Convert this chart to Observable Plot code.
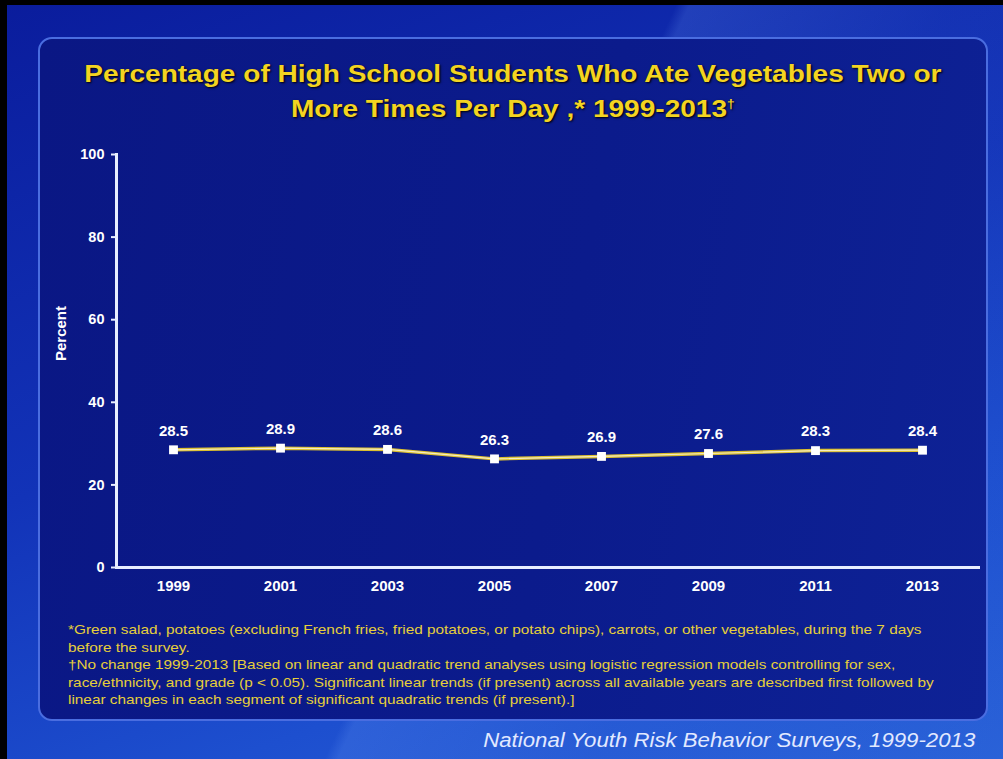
<!DOCTYPE html>
<html>
<head>
<meta charset="utf-8">
<script src="https://cdn.jsdelivr.net/npm/d3@7"></script>
<script src="https://cdn.jsdelivr.net/npm/@observablehq/plot@0.6"></script>
<style>
  html, body { margin: 0; padding: 0; }
  body {
    width: 1003px; height: 759px; position: relative; overflow: hidden;
    font-family: "Liberation Sans", Arial, sans-serif;
    background:
      linear-gradient(115deg, rgba(255,255,255,0) 0%, rgba(255,255,255,0) 50%, rgba(120,170,255,0.18) 51%, rgba(120,170,255,0.05) 70%, rgba(255,255,255,0) 100%),
      linear-gradient(160deg, #0a1c9c 0%, #1233b8 45%, #1d4fcf 75%, #2a62d8 100%);
  }
  #frameL { position: absolute; left: 0; top: 0; width: 7px; height: 759px; background: #000; }
  #frameT { position: absolute; left: 0; top: 0; width: 1003px; height: 5px; background: #000; }
  #panel {
    position: absolute; left: 38px; top: 37px; width: 946px; height: 680px;
    border: 2px solid #4a6de0; border-radius: 14px;
    background: linear-gradient(100deg, #0a1784 0%, #0b1b8c 55%, #0e2296 100%);
  }
  #title {
    position: absolute; left: 38px; top: 59px; width: 950px; text-align: center;
    color: #f3d421; font-weight: bold; font-size: 24.5px; line-height: 30px;
    text-shadow: 1px 1px 2px #000;
    transform: scaleX(1.145); transform-origin: 476px 0;
  }
  #notes {
    position: absolute; left: 68px; top: 621px;
    color: #e6cf3a; font-size: 13px; line-height: 17.5px; white-space: nowrap;
    transform: scaleX(1.18); transform-origin: 0 0;
  }
  #source {
    position: absolute; right: 28px; top: 729px;
    color: #e2e9ff; font-style: italic; font-size: 20px;
    transform: scaleX(1.11); transform-origin: 100% 0;
  }
  #chart { position: absolute; left: 0; top: 0; }
</style>
</head>
<body>
<div id="frameL"></div><div id="frameT"></div>
<div id="panel"></div>
<div id="title">Percentage of High School Students Who Ate Vegetables Two or<br>More Times Per Day ,* 1999-2013<sup style="font-size:12px">†</sup></div>
<div id="chart"></div>
<div id="notes">*Green salad, potatoes (excluding French fries, fried potatoes, or potato chips), carrots, or other vegetables, during the 7 days<br>before the survey.<br>†No change 1999-2013 [Based on linear and quadratic trend analyses using logistic regression models controlling for sex,<br>race/ethnicity, and grade (p &lt; 0.05). Significant linear trends (if present) across all available years are described first followed by<br>linear changes in each segment of significant quadratic trends (if present).]</div>
<div id="source">National Youth Risk Behavior Surveys, 1999-2013</div>
<script>
const years = ["1999", "2001", "2003", "2005", "2007", "2009", "2011", "2013"];
const percents = [28.5, 28.9, 28.6, 26.3, 26.9, 27.6, 28.3, 28.4];
const yTicks = [0, 20, 40, 60, 80, 100];
const yLabel = "Percent";

const data = years.map((year, i) => ({year, value: percents[i]}));

const chart = Plot.plot({
  width: 1003,
  height: 759,
  marginLeft: 116,
  marginRight: 25,
  marginTop: 154,
  marginBottom: 192,
  style: {background: "transparent", color: "#ffffff", fontFamily: "Liberation Sans, Arial, sans-serif", overflow: "visible"},
  x: {type: "point", domain: years, padding: 0.52},
  y: {domain: [0, 100]},
  marks: [
    Plot.frame({anchor: "left", stroke: "#e8eeff", strokeWidth: 3}),
    Plot.frame({anchor: "bottom", stroke: "#e8eeff", strokeWidth: 3}),
    Plot.axisY({ticks: yTicks, tickSize: 5, tickPadding: 7, strokeWidth: 2, fontSize: 14.5, fontWeight: "bold", label: null, stroke: "#e8eeff", fill: "#ffffff"}),
    Plot.axisX({tickSize: 0, tickPadding: 13, fontSize: 15, fontWeight: "bold", label: null, fill: "#ffffff"}),
    Plot.text([yLabel], {frameAnchor: "left", dx: -55, rotate: -90, fontSize: 15, fontWeight: "bold", fill: "#ffffff"}),
    Plot.line(data, {x: "year", y: "value", stroke: "#dcbf2e", strokeWidth: 3.5}),
    Plot.line(data, {x: "year", y: "value", stroke: "#f4ecc4", strokeWidth: 1.2}),
    Plot.dot(data, {x: "year", y: "value", symbol: "square", r: 5, fill: "#ffffff", stroke: "none"}),
    Plot.text(data, {x: "year", y: "value", text: d => d.value.toFixed(1), dy: -19, fontSize: 15, fontWeight: "bold", fill: "#ffffff"})
  ]
});
document.getElementById("chart").appendChild(chart);
</script>
</body>
</html>
